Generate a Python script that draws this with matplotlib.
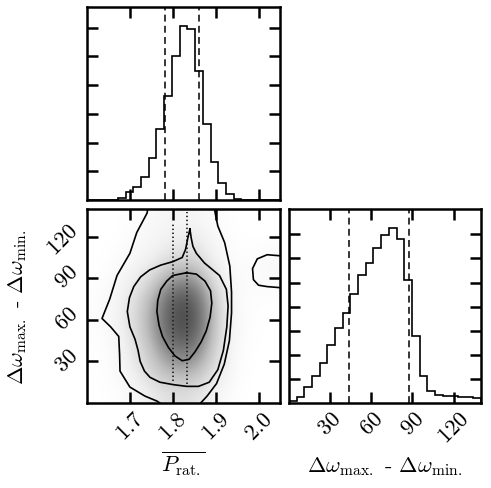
import numpy as np
import matplotlib
matplotlib.use("Agg")
import matplotlib.pyplot as plt
from matplotlib.transforms import ScaledTranslation

plt.rcParams['mathtext.fontset'] = 'cm'
plt.rcParams['font.family'] = ['cmr10', 'DejaVu Serif']
plt.rcParams['axes.unicode_minus'] = False

# ---------------- data ----------------
p_range = (1.60, 2.05)
w_range = (0.0, 140.0)
n_bins = 25

p_counts = [0, 0, 0, 0, 7, 27, 46, 79, 145, 247, 363, 501, 607, 596, 450,
            265, 131, 58, 21, 3, 0, 0, 0, 0, 0]
w_counts = [10, 26, 65, 113, 167, 239, 311, 375, 452, 531, 582, 643, 699,
            726, 680, 510, 277, 111, 49, 34, 30, 28, 25, 24, 21]

p_quantiles = [1.782, 1.860]
w_quantiles = [43.5, 87.5]

p_ticks = [1.7, 1.8, 1.9, 2.0]
p_ticklabels = ['$1.7$', '$1.8$', '$1.9$', '$2.0$']
w_ticks = [30, 60, 90, 120]
w_ticklabels = ['$30$', '$60$', '$90$', '$120$']
p_hist_yticks = [100, 200, 300, 400, 500, 600]
w_hist_yticks = [100, 200, 300, 400, 500, 600, 700]
p_hist_ymax = 672
w_hist_ymax = 805

# 2D sample density (darkness), rows bottom->top (w = 7..133), cols p = 1.6225..2.0275
density = [
    [0.00, 0.01, 0.06, 0.14, 0.20, 0.19, 0.09, 0.01, 0.00, 0.00],
    [0.00, 0.03, 0.12, 0.26, 0.36, 0.36, 0.20, 0.04, 0.00, 0.00],
    [0.00, 0.04, 0.16, 0.34, 0.52, 0.52, 0.28, 0.05, 0.00, 0.00],
    [0.01, 0.06, 0.20, 0.42, 0.66, 0.66, 0.34, 0.06, 0.01, 0.00],
    [0.02, 0.07, 0.22, 0.44, 0.70, 0.70, 0.36, 0.06, 0.01, 0.00],
    [0.01, 0.06, 0.19, 0.38, 0.64, 0.64, 0.32, 0.05, 0.01, 0.02],
    [0.00, 0.04, 0.11, 0.24, 0.42, 0.45, 0.20, 0.04, 0.03, 0.04],
    [0.00, 0.02, 0.06, 0.11, 0.20, 0.24, 0.10, 0.02, 0.01, 0.05],
    [0.00, 0.00, 0.03, 0.07, 0.11, 0.15, 0.06, 0.01, 0.00, 0.00],
    [0.00, 0.00, 0.01, 0.05, 0.07, 0.07, 0.03, 0.00, 0.00, 0.00],
]

# dense sample streaks
streak_p = [1.800, 1.833]
streak_wmin = [16, 14]
streak_wmax = [129, 138]

# contour lines (data coordinates)
inner_p = [1.832, 1.800, 1.786, 1.772, 1.765, 1.763, 1.768, 1.776, 1.790, 1.805,
           1.822, 1.838, 1.852, 1.866, 1.878, 1.887, 1.891, 1.888, 1.875, 1.855, 1.832]
inner_w = [94, 92, 88, 82, 74, 66, 56, 48, 40, 34,
           30.5, 31.5, 37, 44, 52, 62, 72, 81, 88, 93, 94]

middle_p = [1.840, 1.835, 1.830, 1.822, 1.800, 1.772, 1.746, 1.725, 1.709, 1.699,
            1.694, 1.700, 1.712, 1.719, 1.724, 1.734, 1.747, 1.770, 1.802, 1.833,
            1.860, 1.885, 1.905, 1.918, 1.926, 1.929, 1.925, 1.909, 1.874, 1.855,
            1.847, 1.843, 1.840]
middle_w = [125.5, 119, 111, 105, 102, 99.5, 96, 91, 84, 76,
            66, 55, 46, 38, 30, 23, 18.5, 15, 13.2, 12,
            12, 15, 24, 38, 55, 70, 82, 92, 101, 108,
            113, 119, 125.5]

outer_p = [1.742, 1.740, 1.716, 1.700, 1.670, 1.653, 1.635, 1.655, 1.674, 1.676,
           1.677, 1.700, 1.735, 1.763, 1.775]
outer_w = [141, 137, 123, 108, 92, 75, 61, 55, 48, 35,
           23, 11.5, 5, 1.4, -1]
outer_right_p = [1.897, 1.898, 1.905, 1.921, 1.933, 1.937, 1.937, 1.932, 1.920,
                 1.902, 1.880, 1.862]
outer_right_w = [141, 138.5, 127.7, 115.7, 98.8, 80, 65, 45, 28, 14, 5, -1]

blob_p = [2.06, 2.02, 1.997, 1.986, 1.988, 2.000, 2.020, 2.06]
blob_w = [106, 107, 104, 97, 89, 85, 84, 83]

# ---------------- figure ----------------
W, H = 491, 489
fig = plt.figure(figsize=(W / 100, H / 100), dpi=100)

def frac(x0, y0, x1, y1):
    return [x0 / W, 1 - y1 / H, (x1 - x0) / W, (y1 - y0) / H]

ax_top = fig.add_axes(frac(87, 8, 280, 201))
ax_2d = fig.add_axes(frac(87, 210, 280, 404))
ax_r = fig.add_axes(frac(289, 210, 481, 404))

fs = 16
spine_lw = 1.8

def style(ax):
    for s in ax.spines.values():
        s.set_linewidth(spine_lw)
    ax.tick_params(direction='in', length=8, width=1.8, top=True, right=True,
                   labelsize=fs, pad=4)

p_edges = np.linspace(p_range[0], p_range[1], n_bins + 1)
w_edges = np.linspace(w_range[0], w_range[1], n_bins + 1)

# top histogram
ax_top.stairs(p_counts, p_edges, color='k', lw=1.2)
for q in p_quantiles:
    ax_top.axvline(q, color='k', lw=1.1, ls=(0, (4.5, 2.8)))
ax_top.set_xlim(*p_range)
ax_top.set_ylim(0, p_hist_ymax)
ax_top.set_xticks(p_ticks)
ax_top.set_yticks(p_hist_yticks)
ax_top.set_xticklabels([])
ax_top.set_yticklabels([])
style(ax_top)

# right histogram
ax_r.stairs(w_counts, w_edges, color='k', lw=1.2)
for q in w_quantiles:
    ax_r.axvline(q, color='k', lw=1.1, ls=(0, (4.5, 2.8)))
ax_r.set_xlim(*w_range)
ax_r.set_ylim(0, w_hist_ymax)
ax_r.set_xticks(w_ticks)
ax_r.set_xticklabels(w_ticklabels)
ax_r.set_yticks(w_hist_yticks)
ax_r.set_yticklabels([])
style(ax_r)
for lab in ax_r.get_xticklabels():
    lab.set_rotation(45)

# 2D panel
ax_2d.imshow(density, extent=[p_range[0], p_range[1], w_range[0], w_range[1]],
             origin='lower', aspect='auto', cmap='Greys', vmin=0, vmax=0.9,
             interpolation='bicubic', zorder=0)
ax_2d.vlines(streak_p, streak_wmin, streak_wmax, colors='0.15', lw=1.3,
             linestyles=(0, (0.8, 1.4)), zorder=1)
for xs, ys in [(inner_p, inner_w), (middle_p, middle_w), (outer_p, outer_w),
               (outer_right_p, outer_right_w), (blob_p, blob_w)]:
    ax_2d.plot(xs, ys, color='k', lw=1.2, zorder=2)
ax_2d.set_xlim(*p_range)
ax_2d.set_ylim(*w_range)
ax_2d.set_xticks(p_ticks)
ax_2d.set_xticklabels(p_ticklabels)
ax_2d.set_yticks(w_ticks)
ax_2d.set_yticklabels(w_ticklabels)
style(ax_2d)
for lab in ax_2d.get_xticklabels():
    lab.set_rotation(45)
shift_up = ScaledTranslation(0, 9 / 100, fig.dpi_scale_trans)
for lab in ax_2d.get_yticklabels():
    lab.set_rotation(45)
    lab.set_transform(lab.get_transform() + shift_up)

wlabel = r'$\Delta\omega_{\rm max.}$ - $\Delta\omega_{\rm min.}$'
ax_2d.set_xlabel(r'$\overline{P_{\rm rat.}}$', fontsize=fs)
ax_2d.xaxis.set_label_coords(0.5, -0.351)
ax_2d.xaxis.label.set_verticalalignment('baseline')
ax_2d.set_ylabel(wlabel, fontsize=fs)
ax_2d.yaxis.set_label_coords(-0.33, 0.5)
ax_2d.yaxis.label.set_verticalalignment('baseline')
ax_r.set_xlabel(wlabel, fontsize=fs)
ax_r.xaxis.set_label_coords(0.5, -0.351)
ax_r.xaxis.label.set_verticalalignment('baseline')

fig.savefig('out.png', dpi=100)
